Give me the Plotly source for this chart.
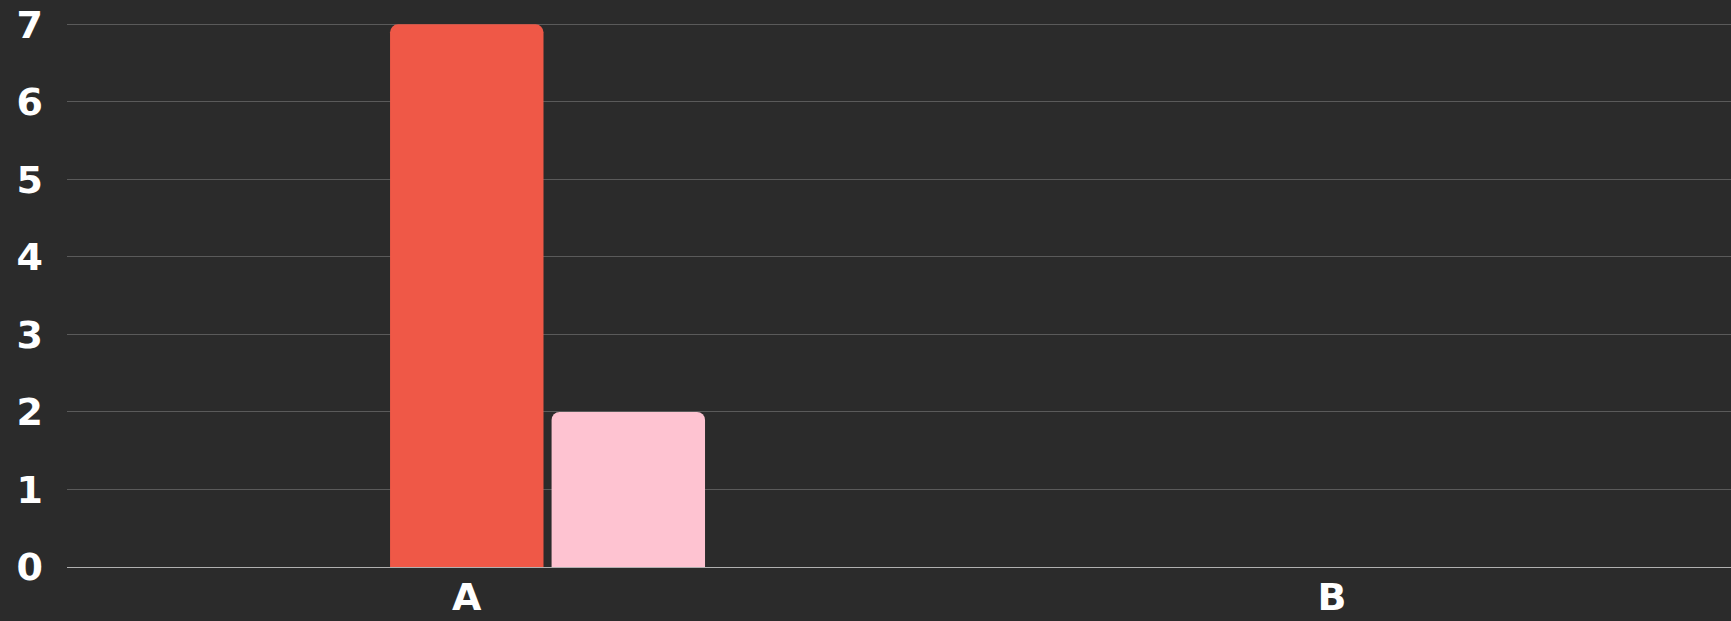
import plotly.graph_objects as go

categories = ["A", "B"]
series_hidden = [0, 0]
series_red = [7, 0]
series_pink = [2, 0]
y_ticks = [0, 1, 2, 3, 4, 5, 6, 7]

fig = go.Figure()
fig.add_trace(go.Bar(x=categories, y=series_hidden, marker_color="rgba(0,0,0,0)", marker_line_width=0, showlegend=False))
fig.add_trace(go.Bar(x=categories, y=series_red, marker_color="#EF5847", marker_line_width=0, showlegend=False))
fig.add_trace(go.Bar(x=categories, y=series_pink, marker_color="#FEC3D1", marker_line_width=0, showlegend=False))

font = dict(family="DejaVu Sans", size=38, color="#FFFFFF", weight=700)
fig.update_layout(
    width=1731, height=621,
    margin=dict(l=67, r=0, t=22, b=54, pad=0, autoexpand=False),
    paper_bgcolor="#2B2B2B", plot_bgcolor="#2B2B2B",
    barmode="group", bargap=0.44, bargroupgap=0.05,
    barcornerradius=8,
    showlegend=False,
    font=font,
)
fig.update_xaxes(range=[-0.462, 1.461], showgrid=False, showline=False, zeroline=False,
                 tickfont=font, ticklabelstandoff=4, ticks="", automargin=False)
fig.update_yaxes(range=[0, 7.03], tickvals=y_ticks, showgrid=True, gridcolor="#5A5A5A", gridwidth=1,
                 zeroline=True, zerolinecolor="#B0B0B0", zerolinewidth=1, showline=False,
                 tickfont=font, ticklabelstandoff=23, ticks="", automargin=False)
fig.write_html("out.html")
